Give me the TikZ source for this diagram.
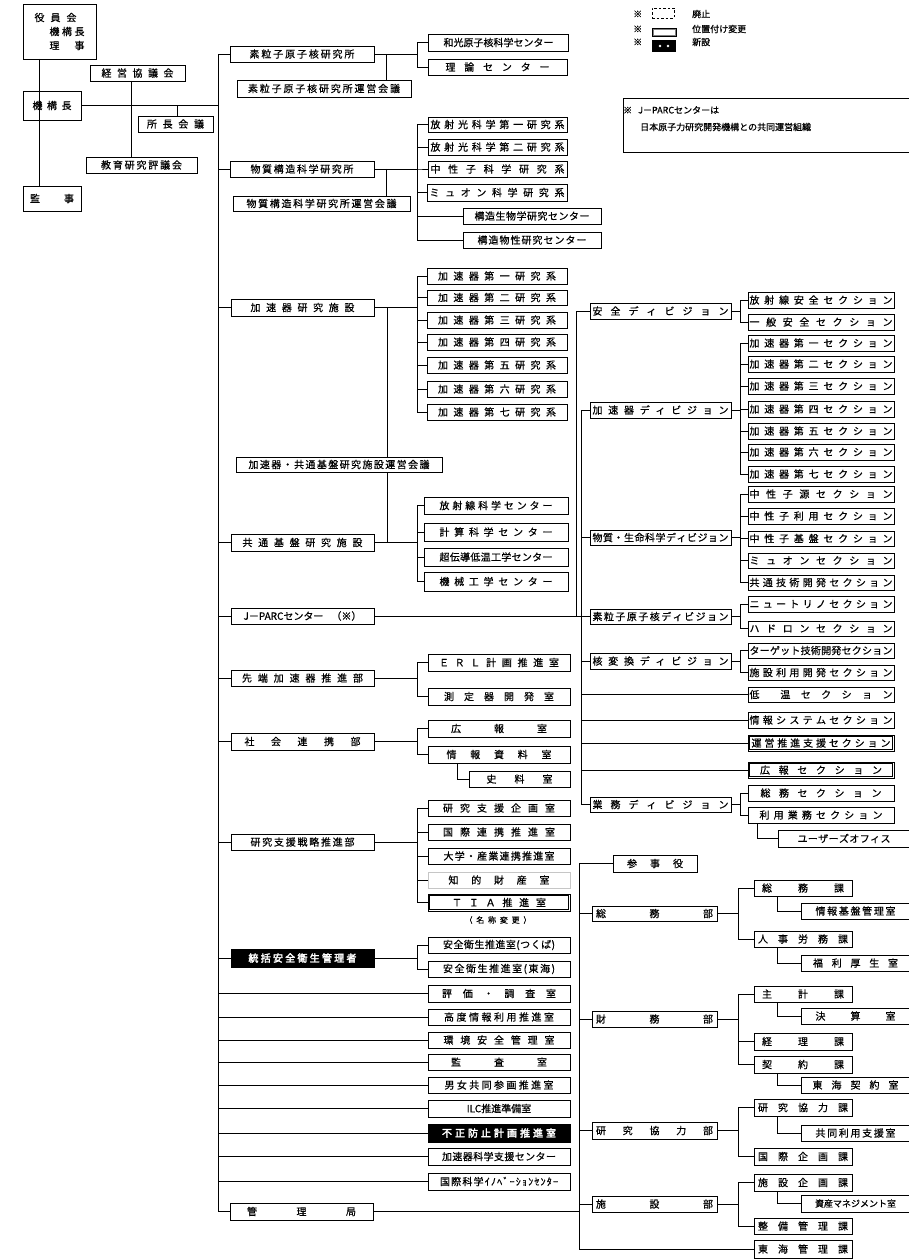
\documentclass[tikz,border=0pt]{standalone}
\usepackage{fontspec}
\setmainfont{Noto Sans CJK JP}[FakeBold=0.6]
\newfontfamily\jpb{Noto Sans CJK JP}[FakeBold=3]
\makeatletter
\def\dist#1{\dist@a#1\relax}
\def\dist@a#1{\ifx#1\relax\else#1\expandafter\dist@b\fi}
\def\dist@b#1{\ifx#1\relax\else\hfill#1\expandafter\dist@b\fi}
\makeatother
\newcommand\spr[2]{\hbox to #1pt{\dist{#2}}}
\newcommand\obox[7][]{\node[bx,minimum width={(#5-#3)*1pt},minimum height={(#6-#4)*1pt},#1] (#2) at ({(#3+#5)/2},{(#4+#6)/2}) {#7};}
\newcommand\inner[1]{\draw[line width=0.55pt] ([shift={(1.5,1.5)}]#1.north west) rectangle ([shift={(-1.5,-1.5)}]#1.south east);}
\tikzset{
 bx/.style={draw, line width=0.6pt, inner sep=0pt, outer sep=0pt, font=\fontsize{10}{11}\selectfont},
 blk/.style={fill=black, text=white, font=\jpb\fontsize{10}{11}\selectfont},
 ln/.style={line width=0.6pt},
 lg/.style={font=\fontsize{9}{10}\selectfont, inner sep=0pt, anchor=west},
}
\begin{document}
\begin{tikzpicture}[x=1pt,y=-1pt]
\useasboundingbox (0,0) rectangle (908,1260);
\fill[white] (0,0) rectangle (908,1260);
% bus coordinates
\coordinate (T) at (218,0);
\coordinate (V) at (39.5,0);
\coordinate (C131) at (131,0);
\coordinate (C177) at (177,0);
\coordinate (C386) at (386,0);
\coordinate (C387) at (387,0);
\coordinate (B417) at (417,0);
\coordinate (C457) at (457,0);
\coordinate (D) at (581,0);
\coordinate (D2) at (576,0);
\coordinate (E) at (740,0);
\coordinate (C757) at (757,0);
\coordinate (A) at (579,0);
\coordinate (B738) at (738,0);
\coordinate (C777) at (777,0);

% top-left
\node[bx,minimum width=73pt,minimum height=55pt] (yakuin) at (59.5,31.5) {\vbox{\baselineskip=14pt\hbox{\spr{42}{役員会}}\hbox{\hskip15pt\spr{35}{機構長}}\hbox{\hskip15pt\spr{35}{理事}}}};
\obox{kikou}{23}{91}{81}{120}{\spr{39}{機構長}}
\obox{kanji}{23}{186}{81}{211}{\spr{44}{監事}}
\obox{keiei}{90}{65}{185}{81}{\spr{72}{経営協議会}}
\obox{shocho}{138}{116}{213}{132}{\spr{57}{所長会議}}
\obox{kyoiku}{86}{157}{197}{173}{\spr{81}{教育研究評議会}}

% main column
\obox{so}{230}{46}{374}{62}{\spr{105}{素粒子原子核研究所}}
\obox{soun}{237}{80}{411}{97}{\spr{152}{素粒子原子核研究所運営会議}}
\obox{bk}{230}{161}{374}{177}{\spr{103}{物質構造科学研究所}}
\obox{bkun}{233}{196}{410}{211}{\spr{150}{物質構造科学研究所運営会議}}
\obox{ka}{231}{299}{374}{316}{\spr{104}{加速器研究施設}}
\obox{kaun}{236}{457}{442}{472}{\spr{181}{加速器・共通基盤研究施設運営会議}}
\obox{kyotsu}{231}{534}{374}{551}{\spr{120}{共通基盤研究施設}}
\obox{jparc}{231}{608}{374}{624}{J－PARCセンター\hspace{8pt}（※）}
\obox{sentan}{231}{670}{374}{686}{\spr{121}{先端加速器推進部}}
\obox{shakai}{231}{733}{374}{750}{\spr{116}{社会連携部}}
\obox{kenkyu}{231}{834}{374}{850}{\spr{104}{研究支援戦略推進部}}
\obox[blk]{tokatsu}{231}{949}{374}{967}{\spr{108}{統括安全衛生管理者}}
\obox{kanri}{230}{1203}{373}{1220}{\spr{109}{管理局}}

% second column
\obox{wako}{428}{34}{568}{51}{\spr{109}{和光原子核科学センター}}
\obox{riron}{428}{59}{567}{75}{\spr{104}{理論センター}}
\obox{hs1}{428}{117}{567}{132}{\spr{134}{放射光科学第一研究系}}
\obox{hs2}{428}{139}{567}{155}{\spr{134}{放射光科学第二研究系}}
\obox{chu}{428}{161}{567}{177}{\spr{134}{中性子科学研究系}}
\obox{muon}{427}{184}{567}{201}{\spr{135}{ミュオン科学研究系}}
\obox{kozo}{463}{208}{601}{224}{\spr{115}{構造生物学研究センター}}
\obox{bussei}{463}{232}{601}{248}{\spr{109}{構造物性研究センター}}
\obox{ka1}{427}{268}{567}{284}{\spr{118}{加速器第一研究系}}
\obox{ka2}{427}{290}{567}{305}{\spr{118}{加速器第二研究系}}
\obox{ka3}{427}{312}{567}{328}{\spr{118}{加速器第三研究系}}
\obox{ka4}{427}{334}{567}{350}{\spr{118}{加速器第四研究系}}
\obox{ka5}{427}{357}{567}{373}{\spr{118}{加速器第五研究系}}
\obox{ka6}{427}{381}{567}{397}{\spr{118}{加速器第六研究系}}
\obox{ka7}{427}{404}{567}{420}{\spr{118}{加速器第七研究系}}
\obox{hoshasen}{424}{497}{568}{514}{\spr{113}{放射線科学センター}}
\obox{keisan}{424}{523}{568}{541}{\spr{113}{計算科学センター}}
\obox{chodendo}{424}{548}{568}{566}{\spr{113}{超伝導低温工学センター}}
\obox{kikai}{424}{572}{568}{591}{\spr{113}{機械工学センター}}
\obox{erl}{428}{654}{570}{671}{\spr{120}{ＥＲＬ計画推進室}}
\obox{sokutei}{428}{688}{570}{705}{\spr{110}{測定器開発室}}
\obox{koho}{428}{720}{570}{737}{\spr{96}{広報室}}
\obox{joho}{428}{746}{570}{763}{\spr{105}{情報資料室}}
\obox{shiryo}{469}{771}{570}{787}{\spr{66}{史料室}}
\obox{kikaku}{428}{800}{570}{816}{\spr{112}{研究支援企画室}}
\obox{kokusai}{428}{824}{570}{840}{\spr{112}{国際連携推進室}}
\obox{daigaku}{428}{848}{570}{864}{\spr{111}{大学・産業連携推進室}}
\obox[draw=gray!45]{chiteki}{428}{872}{570}{888}{\spr{101}{知的財産室}}
\obox{tia}{428}{894}{570}{911}{\spr{94}{ＴＩＡ推進室}}
\inner{tia}
\node[font=\fontsize{8}{9}\selectfont, inner sep=0pt] (meisho) at (498,920) {\spr{67}{（名称変更）}};
\obox{anzen1}{428}{937}{570}{953}{\spr{112}{安全衛生推進室(つくば)}}
\obox{anzen2}{428}{961}{570}{977}{\spr{112}{安全衛生推進室(東海)}}
\obox{hyoka}{428}{985}{570}{1002}{\spr{114}{評価・調査室}}
\obox{kodo}{428}{1009}{570}{1025}{\spr{110}{高度情報利用推進室}}
\obox{kankyo}{428}{1032}{570}{1048}{\spr{111}{環境安全管理室}}
\obox{kansa}{428}{1054}{570}{1070}{\spr{96}{監査室}}
\obox{danjo}{428}{1077}{570}{1093}{\spr{109}{男女共同参画推進室}}
\obox{ilc}{428}{1100}{570}{1117}{ILC推進準備室}
\obox[blk]{fusei}{428}{1124}{570}{1142}{\spr{114}{不正防止計画推進室}}
\obox{kasoku}{428}{1148}{570}{1165}{\spr{114}{加速器科学支援センター}}
\obox{inov}{428}{1173}{570}{1190}{\spr{118}{国際科学ｲﾉﾍﾞｰｼｮﾝｾﾝﾀｰ}}

% divisions
\obox{dan}{590}{303}{731}{319}{\spr{136}{安全ディビジョン}}
\obox{dka}{590}{402}{731}{418}{\spr{136}{加速器ディビジョン}}
\obox{dbs}{590}{530}{731}{545}{\spr{136}{物質・生命科学ディビジョン}}
\obox{dso}{590}{609}{731}{624}{\spr{136}{素粒子原子核ディビジョン}}
\obox{dkh}{590}{653}{731}{669}{\spr{136}{核変換ディビジョン}}
\obox{dgy}{590}{797}{731}{812}{\spr{136}{業務ディビジョン}}

% sections
\obox{srad}{748}{292}{894}{308}{\spr{143}{放射線安全セクション}}
\obox{sipp}{748}{314}{894}{330}{\spr{143}{一般安全セクション}}
\obox{sk1}{748}{335}{894}{351}{\spr{143}{加速器第一セクション}}
\obox{sk2}{748}{356}{894}{372}{\spr{143}{加速器第二セクション}}
\obox{sk3}{748}{378}{894}{394}{\spr{143}{加速器第三セクション}}
\obox{sk4}{748}{401}{894}{417}{\spr{143}{加速器第四セクション}}
\obox{sk5}{748}{423}{894}{439}{\spr{143}{加速器第五セクション}}
\obox{sk6}{748}{444}{894}{460}{\spr{143}{加速器第六セクション}}
\obox{sk7}{748}{466}{894}{482}{\spr{143}{加速器第七セクション}}
\obox{sn1}{748}{486}{894}{502}{\spr{143}{中性子源セクション}}
\obox{sn2}{748}{508}{894}{524}{\spr{143}{中性子利用セクション}}
\obox{sn3}{748}{531}{894}{546}{\spr{143}{中性子基盤セクション}}
\obox{smu}{748}{553}{894}{568}{\spr{143}{ミュオンセクション}}
\obox{skt}{748}{575}{894}{590}{\spr{143}{共通技術開発セクション}}
\obox{snu}{748}{596}{894}{612}{\spr{143}{ニュートリノセクション}}
\obox{shd}{748}{621}{894}{636}{\spr{143}{ハドロンセクション}}
\obox{stg}{748}{643}{894}{658}{\spr{143}{ターゲット技術開発セクション}}
\obox{sfr}{748}{665}{894}{680}{\spr{143}{施設利用開発セクション}}
\obox{slow}{748}{687}{894}{702}{\hbox to 143pt{低\hfill\hfill\dist{温セクション}}}
\obox{sinfo}{748}{712}{894}{728}{\spr{143}{情報システムセクション}}
\obox{sunei}{748}{735}{894}{751}{\spr{139}{運営推進支援セクション}}
\inner{sunei}
\obox{skoho}{748}{762}{894}{778}{\spr{122}{広報セクション}}
\inner{skoho}
\obox{ssomu}{748}{785}{894}{801}{\spr{121}{総務セクション}}
\obox{sriyo}{748}{807}{894}{823}{\spr{123}{利用業務セクション}}
\obox{users}{778}{830}{910}{847}{\spr{93}{ユーザーズオフィス}}

% administration
\obox{sanji}{613}{855}{697}{872}{\spr{56}{参事役}}
\obox{somubu}{592}{906}{717}{921}{\spr{117}{総務部}}
\obox{zaimubu}{592}{1011}{717}{1027}{\spr{117}{財務部}}
\obox{kyoryokubu}{592}{1122}{717}{1139}{\spr{117}{研究協力部}}
\obox{shisetsubu}{592}{1196}{717}{1212}{\spr{117}{施設部}}
\obox{somuka}{754}{880}{852}{896}{\spr{82}{総務課}}
\obox{johokiban}{801}{903}{910}{919}{\spr{80}{情報基盤管理室}}
\obox{jinji}{754}{931}{852}{947}{\spr{90}{人事労務課}}
\obox{fukuri}{801}{955}{910}{971}{\spr{85}{福利厚生室}}
\obox{shukei}{754}{986}{852}{1002}{\spr{82}{主計課}}
\obox{kessan}{801}{1008}{910}{1024}{\spr{80}{決算室}}
\obox{keiri}{754}{1033}{852}{1050}{\spr{82}{経理課}}
\obox{keiyaku}{754}{1056}{852}{1073}{\spr{82}{契約課}}
\obox{tkeiyaku}{801}{1077}{910}{1093}{\spr{86}{東海契約室}}
\obox{kyoryokuka}{754}{1099}{852}{1116}{\spr{90}{研究協力課}}
\obox{kyodo}{801}{1125}{910}{1141}{\spr{80}{共同利用支援室}}
\obox{kokusaika}{754}{1148}{852}{1165}{\spr{90}{国際企画課}}
\obox{shisetsuka}{754}{1174}{852}{1191}{\spr{90}{施設企画課}}
\obox{shisan}{801}{1195}{910}{1212}{\fontsize{9}{10}\selectfont 資産マネジメント室}
\obox{seibi}{754}{1218}{852}{1234}{\spr{90}{整備管理課}}
\obox{tkanri}{754}{1240}{852}{1258}{\spr{90}{東海管理課}}

% legend
\node[lg] (lm1) at (633,14) {※};
\node[draw, dashed, dash pattern=on 2.5pt off 2pt, line width=0.7pt, minimum width=22pt, minimum height=10pt, inner sep=0pt] (lb1) at (663,13) {};
\node[lg] (lt1) at (692,14) {廃止};
\node[lg] (lm2) at (633,29) {※};
\node[draw, line width=0.6pt, minimum width=24pt, minimum height=8pt, inner sep=0pt] (lb2) at (664,32) {};
\draw[line width=0.5pt, gray] ([shift={(1.3,1.3)}]lb2.north west) rectangle ([shift={(-1.3,-1.3)}]lb2.south east);
\node[lg] (lt2) at (692,29) {位置付け変更};
\node[lg] (lm3) at (633,42) {※};
\node[fill=black, minimum width=24pt, minimum height=12pt, inner sep=0pt] (lb3) at (664,46) {};
\fill[white] (660,46) circle (1.3pt) (668,46) circle (1.3pt);
\node[lg] (lt3) at (692,42) {新設};
\draw[line width=0.8pt] (910,98) -- (623,98) -- (623,152) -- (910,152);
\node[lg] (note1) at (623,110) {※\hspace{6pt}J－PARCセンターは};
\node[lg] (note2) at (640,127) {日本原子力研究開発機構との共同運営組織};

% connectors: top-left
\draw[ln] (V |- yakuin.south) -- (V |- kanji.north);
\draw[ln] (C131 |- keiei.south) -- (C131 |- kyoiku.north);
\draw[ln] (kikou.east) -- (kikou.east -| T);
\draw[ln] (C177 |- kikou.east) -- (C177 |- shocho.north);
\foreach \n in {so,bk,ka,kyotsu,jparc,sentan,shakai,kenkyu,tokatsu,hyoka,kodo,kankyo,kansa,danjo,ilc,fusei,kasoku,inov,kanri}
  \draw[ln] (kikou.east -| T) |- (\n.west);
% institutes
\foreach \n in {wako,riron} \draw[ln] (so.east) -- (so.east -| B417) |- (\n.west);
\draw[ln] (C386 |- so.east) -- (C386 |- soun.north);
\foreach \n in {hs1,hs2,chu,muon,kozo,bussei} \draw[ln] (bk.east) -- (bk.east -| B417) |- (\n.west);
\draw[ln] (C386 |- bk.east) -- (C386 |- bkun.north);
\foreach \n in {ka1,ka2,ka3,ka4,ka5,ka6,ka7} \draw[ln] (ka.east) -- (ka.east -| B417) |- (\n.west);
\draw[ln] (C387 |- ka.east) -- (C387 |- kaun.north);
\draw[ln] (C387 |- kaun.south) -- (C387 |- kyotsu.east);
\foreach \n in {hoshasen,keisan,chodendo,kikai} \draw[ln] (kyotsu.east) -- (kyotsu.east -| B417) |- (\n.west);
% J-PARC
\draw[ln] (jparc.east) -- (jparc.east -| D);
\draw[ln] (jparc.east -| D2) |- (dan.west);
\foreach \n in {dka,dbs,dso,dkh,dgy,slow,sinfo,sunei,skoho} \draw[ln] (jparc.east -| D) |- (\n.west);
\foreach \n in {srad,sipp} \draw[ln] (dan.east) -- (dan.east -| E) |- (\n.west);
\foreach \n in {sk1,sk2,sk3,sk4,sk5,sk6,sk7} \draw[ln] (dka.east) -- (dka.east -| E) |- (\n.west);
\foreach \n in {sn1,sn2,sn3,smu,skt} \draw[ln] (dbs.east) -- (dbs.east -| E) |- (\n.west);
\foreach \n in {snu,shd} \draw[ln] (dso.east) -- (dso.east -| E) |- (\n.west);
\foreach \n in {stg,sfr} \draw[ln] (dkh.east) -- (dkh.east -| E) |- (\n.west);
\foreach \n in {ssomu,sriyo} \draw[ln] (dgy.east) -- (dgy.east -| E) |- (\n.west);
\draw[ln] (C757 |- sriyo.south) |- (users.west);
% other departments
\foreach \n in {erl,sokutei} \draw[ln] (sentan.east) -- (sentan.east -| B417) |- (\n.west);
\foreach \n in {koho,joho} \draw[ln] (shakai.east) -- (shakai.east -| B417) |- (\n.west);
\draw[ln] (C457 |- joho.south) |- (shiryo.west);
\foreach \n in {kikaku,kokusai,daigaku,chiteki,tia} \draw[ln] (kenkyu.east) -- (kenkyu.east -| B417) |- (\n.west);
\foreach \n in {anzen1,anzen2} \draw[ln] (tokatsu.east) -- (tokatsu.east -| B417) |- (\n.west);
% administration
\draw[ln] (kanri.east) -- (kanri.east -| A);
\foreach \n in {sanji,somubu,zaimubu,kyoryokubu,shisetsubu,tkanri} \draw[ln] (kanri.east -| A) |- (\n.west);
\foreach \n in {somuka,jinji} \draw[ln] (somubu.east) -- (somubu.east -| B738) |- (\n.west);
\foreach \n in {shukei,keiri,keiyaku} \draw[ln] (zaimubu.east) -- (zaimubu.east -| B738) |- (\n.west);
\foreach \n in {kyoryokuka,kokusaika} \draw[ln] (kyoryokubu.east) -- (kyoryokubu.east -| B738) |- (\n.west);
\foreach \n in {shisetsuka,seibi} \draw[ln] (shisetsubu.east) -- (shisetsubu.east -| B738) |- (\n.west);
\draw[ln] (C777 |- somuka.south) |- (johokiban.west);
\draw[ln] (C777 |- jinji.south) |- (fukuri.west);
\draw[ln] (C777 |- shukei.south) |- (kessan.west);
\draw[ln] (C777 |- keiyaku.south) |- (tkeiyaku.west);
\draw[ln] (C777 |- kyoryokuka.south) |- (kyodo.west);
\draw[ln] (C777 |- shisetsuka.south) |- (shisan.west);
\end{tikzpicture}
\end{document}
